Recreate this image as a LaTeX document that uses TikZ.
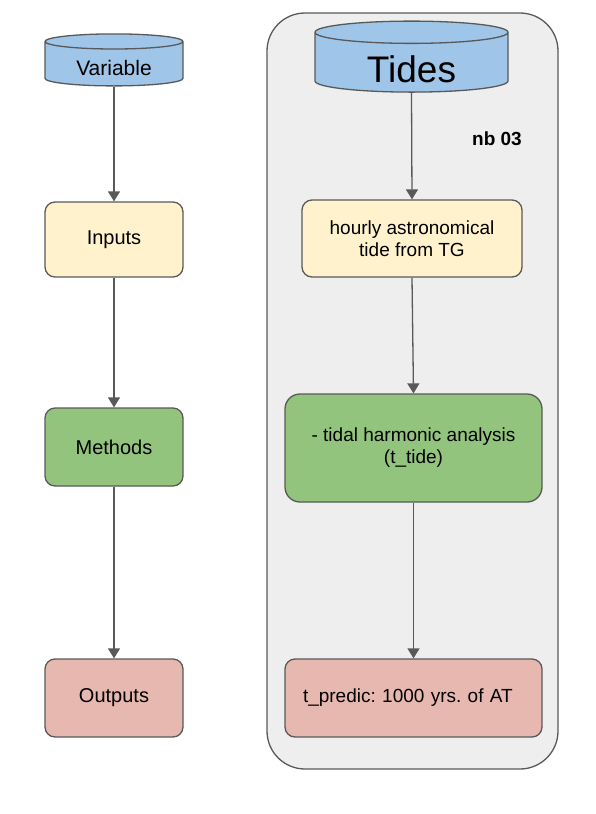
\documentclass[tikz,border=0pt]{standalone}
\usepackage{fontspec}
\setmainfont{Liberation Sans}
\usetikzlibrary{arrows.meta, shapes, positioning}
\usepackage{xcolor}
\definecolor{dbblue}{HTML}{9FC5E8}
\definecolor{inyellow}{HTML}{FFF2CC}
\definecolor{methgreen}{HTML}{93C47D}
\definecolor{outred}{HTML}{E6B8AF}
\definecolor{panelgray}{HTML}{EEEEEE}
\definecolor{linegray}{HTML}{595959}
\frenchspacing

\begin{document}
\begin{tikzpicture}[
                x=1pt, y=-1pt,
                line join=round,
                graydraw/.style={draw=linegray, line width=1.3pt},
                dbnode/.style={shape=cylinder, shape border rotate=90, fill=dbblue, graydraw, inner sep=0pt},
                stepnode/.style={shape=rectangle, rounded corners=10pt, graydraw, inner sep=0pt, align=center, font=\fontsize{19}{22}\selectfont},
                flowarrow/.style={-{Triangle[length=10pt, width=12pt]}, draw=linegray, line width=1.3pt}
                ]
                \useasboundingbox (0,0) rectangle (595,814);

                %% Panel for the notebook
                \node[graydraw, fill=panelgray, rounded corners=38pt, minimum width=291pt, minimum height=756pt] (panel) at (412.5,391) {};
                \node[font=\fontsize{19}{22}\selectfont\bfseries] (nb) at (497,139) {nb 03};

                %% Legend column
                \node[dbnode, minimum width=138pt, minimum height=52pt, aspect=0.2, font=\fontsize{21}{24}\selectfont] (var) at (114,64) {\raisebox{-3.5pt}[\height][\depth]{Variable}};
                \node[stepnode, fill=inyellow, minimum width=138pt, minimum height=75pt, font=\fontsize{20}{24}\selectfont] (inp) at (114,239.5) {Inputs};
                \node[stepnode, fill=methgreen, minimum width=138pt, minimum height=78pt, font=\fontsize{20}{24}\selectfont] (meth) at (114,447) {Methods};
                \node[stepnode, fill=outred, minimum width=138pt, minimum height=78pt, font=\fontsize{20}{24}\selectfont] (outp) at (114,698) {Outputs};

                %% Tides column
                \node[dbnode, minimum width=193pt, minimum height=71pt, aspect=0.25, font=\fontsize{37}{40}\selectfont] (tides) at (411.5,62.5) {\raisebox{-7pt}[\height][\depth]{Tides}};
                \node[stepnode, fill=inyellow, minimum width=220pt, minimum height=77pt] (hour) at (412,238.5) {hourly astronomical\\tide from TG};
                \node[stepnode, fill=methgreen, rounded corners=15pt, minimum width=257pt, minimum height=108pt] (tidal) at (413.5,448) {- tidal harmonic analysis\\(t\_tide)};
                \node[stepnode, fill=outred, minimum width=257pt, minimum height=78pt, inner xsep=18pt, text width=221pt, align=left] (pred) at (413.5,698) {t\_predic: 1000 yrs. of AT};

                %% Draws
                \draw[flowarrow] (var.south) -- (inp.north);
                \draw[flowarrow] (inp.south) -- (meth.north);
                \draw[flowarrow] (meth.south) -- (outp.north);
                \draw[flowarrow] (tides.south) -- (hour.north);
                \draw[flowarrow] (hour.south) -- (tidal.north);
                \draw[flowarrow] (tidal.south) -- (pred.north);
\end{tikzpicture}
\end{document}
